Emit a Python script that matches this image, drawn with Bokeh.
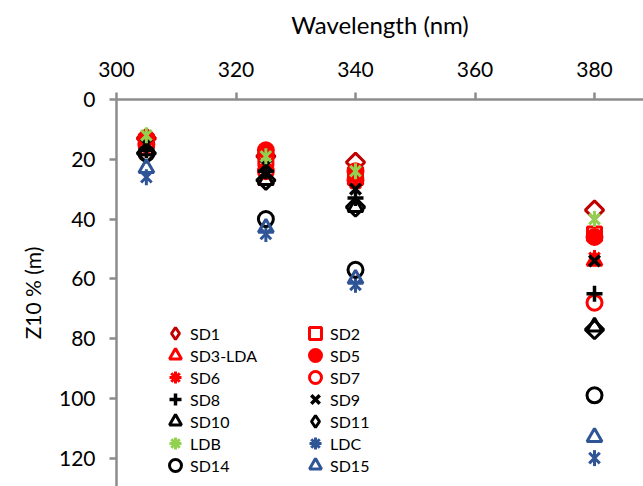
from math import pi
from bokeh.plotting import figure
from bokeh.models import Range1d, FixedTicker, Legend, LegendItem, Title
from bokeh.embed import file_html
from bokeh.resources import INLINE

# ---- data ----
wavelength = [305, 325, 340, 380]
SD1 = [13, 19, 21, 37]
SD2 = [14, 20, 25, 45]
SD3_LDA = [17, 27, 27, 54]
SD5 = [13, 17, 24, 46]
SD6 = [13, 22, 28, 53]
SD7 = [15, 24, 27, 68]
SD8 = [17, 24, 33, 65]
SD9 = [15, 22, 30, 54]
SD10 = [17, 27, 36, 76]
SD11 = [18, 27, 36, 77]
LDB = [12, 19, 24, 40]
LDC = [26, 45, 62, 120]
SD14 = [18, 40, 57, 99]
SD15 = [23, 43, 60, 113]

x_ticks = [300, 320, 340, 360, 380]
y_ticks = [0, 20, 40, 60, 80, 100, 120]

RED = "#FF0000"
DARKRED = "#C00000"
BLACK = "#000000"
GREEN = "#92D050"
BLUE = "#2F5597"
FONT = "Lato"

series = [
    ("SD1", SD1, "diamond", DARKRED, False),
    ("SD2", SD2, "square", RED, False),
    ("SD3-LDA", SD3_LDA, "triangle", RED, False),
    ("SD5", SD5, "circle", RED, True),
    ("SD6", SD6, "star", RED, False),
    ("SD7", SD7, "circle", RED, False),
    ("SD8", SD8, "cross", BLACK, False),
    ("SD9", SD9, "x", BLACK, False),
    ("SD10", SD10, "triangle", BLACK, False),
    ("SD11", SD11, "diamond", BLACK, False),
    ("LDB", LDB, "star", GREEN, False),
    ("LDC", LDC, "star", BLUE, False),
    ("SD14", SD14, "circle", BLACK, False),
    ("SD15", SD15, "triangle", BLUE, False),
]
legend_groups = [
    (["SD1", "SD6", "SD10", "SD14"], 44, 6),
    (["SD3-LDA", "SD8", "LDB"], 44, 28),
    (["SD2", "SD7", "SD11", "SD15"], 184, 6),
    (["SD5", "SD9", "LDC"], 184, 28),
]

p = figure(width=643, height=486, x_range=Range1d(300, 388.2), y_range=Range1d(129.5, 0),
           x_axis_location="above", output_backend="svg", toolbar_location=None,
           min_border_left=116, min_border_top=99, min_border_right=0, min_border_bottom=0)
p.outline_line_color = None
p.grid.visible = False
p.background_fill_color = "white"

for ax, ticks in ((p.xaxis[0], x_ticks), (p.yaxis[0], y_ticks)):
    ax.ticker = FixedTicker(ticks=ticks)
    ax.axis_line_color = "#8C8C8C"
    ax.axis_line_width = 2.5
    ax.major_tick_line_color = "#8C8C8C"
    ax.major_tick_line_width = 2.5
    ax.major_tick_out = 7
    ax.major_tick_in = 0
    ax.minor_tick_out = 0
    ax.minor_tick_in = 0
    ax.major_label_text_font = FONT
    ax.major_label_text_font_size = "21px"
    ax.major_label_text_color = "#000000"

p.xaxis.major_label_standoff = 16
p.yaxis.major_label_standoff = 14
p.xaxis.axis_label = "Wavelength (nm)"
p.xaxis.axis_label_text_font = FONT
p.xaxis.axis_label_text_font_size = "24px"
p.xaxis.axis_label_text_font_style = "normal"
p.xaxis.axis_label_text_color = "#000000"
p.xaxis.axis_label_standoff = 20

p.add_layout(Title(text="Z10 % (m)", align="center", offset=44, standoff=22,
                   text_font=FONT, text_font_size="21px", text_font_style="normal",
                   text_color="#000000"), "left")

items = {}
for name, vals, marker, color, filled in series:
    fill = color if filled else None
    leg = None
    if marker == "star":
        p.scatter(wavelength, vals, marker="x", size=15, line_color=color, line_width=3)
        p.scatter(wavelength, vals, marker="dash", angle=pi / 2, size=16,
                  line_color=color, line_width=3)
        leg = p.scatter(wavelength, vals, marker="asterisk", line_color=color, line_width=3,
                        visible=False)
    elif marker == "diamond":
        p.scatter(wavelength, vals, marker="square", angle=pi / 4, size=13,
                  line_color=color, fill_color=None, line_width=3)
        leg = p.scatter(wavelength, vals, marker="diamond", line_color=color,
                        fill_color=None, line_width=3, visible=False)
    elif marker == "circle":
        leg = p.scatter(wavelength, vals, marker="circle", size=15, line_color=color,
                        fill_color=fill, line_width=3)
    elif marker == "square":
        leg = p.scatter(wavelength, vals, marker="square", size=14, line_color=color,
                        fill_color=None, line_width=3)
    elif marker == "triangle":
        leg = p.scatter(wavelength, vals, marker="triangle", size=15, line_color=color,
                        fill_color=None, line_width=3)
    elif marker == "cross":
        leg = p.scatter(wavelength, vals, marker="cross", size=16, line_color=color,
                        line_width=3.5)
    else:
        leg = p.scatter(wavelength, vals, marker="x", size=15, line_color=color,
                        line_width=3.5)
    items[name] = LegendItem(label=name, renderers=[leg])

for names, xoff, yoff in legend_groups:
    p.add_layout(Legend(items=[items[n] for n in names], location=(xoff, yoff),
                        border_line_color=None, background_fill_alpha=0, padding=0, margin=0,
                        glyph_width=30, glyph_height=30, label_height=20, spacing=14,
                        label_standoff=0, label_text_font=FONT, label_text_font_size="16px",
                        label_text_color="#000000"))

open("out.html", "w").write(file_html(p, INLINE))
